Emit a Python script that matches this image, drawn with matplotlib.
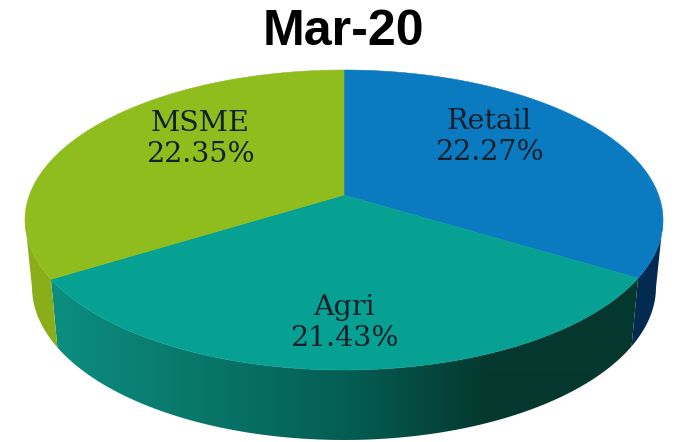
import numpy as np
import matplotlib
matplotlib.use("Agg")
import matplotlib.pyplot as plt
from matplotlib.patches import Polygon

title = "Mar-20"
categories = ["Retail", "Agri", "MSME"]
values = [22.27, 21.43, 22.35]
top_colors = ["#0a7bc1", "#07a193", "#8fbd1e"]
# side shading: colour stops along the screen x position
side_left = ["#04305c", "#0b8d7f", "#8aae1a"]
side_mid = ["#04305c", "#055e53", "#86a81a"]
side_right = ["#032a50", "#04382f", "#7f9f18"]
label_pos = [(489, 137), (344, 323), (200, 139)]

# layout, in pixels
W, H = 676, 442
CX, CY, RX, RY = 344, 220, 319, 150   # top ellipse
BX, BY, BRX, BRY = 344, 287, 312, 153  # bottom ellipse
HUB = 25 / 150                          # hub offset above ellipse centre


def persp(ang):
    """Map a circle angle (degrees) to the tilted ellipse; returns unit coords."""
    a = np.radians(ang)
    u, v = np.cos(a), np.sin(a)
    w = 1 + HUB * v
    return np.sqrt(1 - HUB**2) * u / w, (v + HUB) / w


def side_gradient(i):
    """One-row RGB image: shade of wedge i across the figure width."""
    t = np.clip((np.arange(W) - 60) / (630 - 60), 0, 1)
    stops = np.array([matplotlib.colors.to_rgb(c)
                      for c in (side_left[i], side_mid[i], side_right[i])])
    pos = [0, 0.5, 0.75]
    return np.stack([np.interp(t, pos, stops[:, k]) for k in range(3)], axis=-1)[None, :, :]


fig = plt.figure(figsize=(W / 100, H / 100), dpi=100, facecolor="white")
ax = fig.add_axes([0, 0, 1, 1])

total = sum(values)
spans = [v / total * 360 for v in values]
edges = 90 - np.cumsum([0] + spans)

# side wall (only the part facing the viewer)
for i in range(len(values)):
    angs = np.linspace(edges[i], edges[i + 1], 400)
    ux, uy = persp(angs)
    keep = uy <= 0
    ux, uy = ux[keep], uy[keep]
    top = np.column_stack([CX + RX * ux, CY - RY * uy])
    bottom = np.column_stack([BX + BRX * ux, BY - BRY * uy])
    clip = Polygon(np.vstack([top, bottom[::-1]]), closed=True,
                   transform=ax.transData, facecolor="none", edgecolor="none")
    ax.add_patch(clip)
    im = ax.imshow(side_gradient(i), extent=(0, W, H, 0), aspect="auto",
                   interpolation="bilinear", zorder=2)
    im.set_clip_path(clip)

ax.set_xlim(0, W)
ax.set_ylim(H, 0)
ax.axis("off")

# top face
hub_y = CY - RY * HUB
for i in range(len(values)):
    angs = np.linspace(edges[i], edges[i + 1], 200)
    ux, uy = persp(angs)
    xs = np.concatenate([[CX], CX + RX * ux])
    ys = np.concatenate([[hub_y], CY - RY * uy])
    ax.fill(xs, ys, facecolor=top_colors[i], edgecolor=top_colors[i], linewidth=0.4, zorder=3)

# labels
for name, val, (x, y) in zip(categories, values, label_pos):
    ax.text(x, y, f"{name}\n{val:.2f}%", ha="center", va="center", fontsize=20.5,
            family="DejaVu Serif", color="#14202a", linespacing=1.2, zorder=4)

ax.text(343, 32, title, ha="center", va="center", fontsize=36, fontweight="bold",
        family="Liberation Sans", color="black")

fig.savefig("out.png", dpi=100)
